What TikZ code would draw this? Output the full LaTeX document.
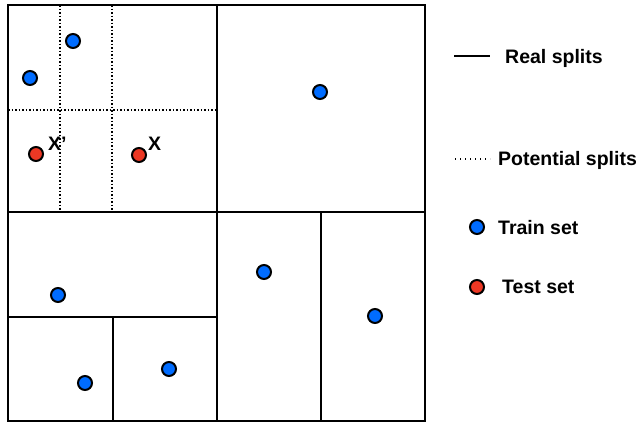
\documentclass[tikz,border=0pt]{standalone}
\usepackage{fontspec}
\setmainfont{Liberation Sans}
\definecolor{trainblue}{RGB}{0,108,255}
\definecolor{testred}{RGB}{236,56,36}
\begin{document}
\begin{tikzpicture}[x=1pt,y=-1pt,
  split/.style={line width=2.5pt, line join=miter},
  potential/.style={line width=1.9pt, dash pattern=on 1.9pt off 1.6pt},
  legdots/.style={line width=1.4pt, dash pattern=on 1.4pt off 3.6pt},
  sample/.style={circle, draw=black, line width=2pt, minimum size=14pt, inner sep=0pt},
  train/.style={sample, fill=trainblue},
  test/.style={sample, fill=testred},
  lbl/.style={font=\bfseries\fontsize{19.5}{22}\selectfont, inner sep=0pt, anchor=base west},
]
\useasboundingbox (0,0) rectangle (642,423);

% corners of the partitioned space
\coordinate (nw) at (8,5);
\coordinate (se) at (425,421);
% real splits
\coordinate (v1t) at (217,5);   \coordinate (v1b) at (217,421);
\coordinate (h1l) at (8,212);   \coordinate (h1r) at (425,212);
\coordinate (h2l) at (8,317);   \coordinate (h2r) at (217,317);
\coordinate (v2t) at (113,317); \coordinate (v2b) at (113,421);
\coordinate (v3t) at (321,212); \coordinate (v3b) at (321,421);
% potential splits
\coordinate (p1t) at (60,5);    \coordinate (p1b) at (60,212);
\coordinate (p2t) at (112,5);   \coordinate (p2b) at (112,212);
\coordinate (p3l) at (8,110);   \coordinate (p3r) at (217,110);

\draw[potential] (p1t) -- (p1b);
\draw[potential] (p2t) -- (p2b);
\draw[potential] (p3l) -- (p3r);

\draw[split] (nw) rectangle (se);
\draw[split] (v1t) -- (v1b);
\draw[split] (h1l) -- (h1r);
\draw[split] (h2l) -- (h2r);
\draw[split] (v2t) -- (v2b);
\draw[split] (v3t) -- (v3b);

% training samples
\node[train] (a1) at (73,41) {};
\node[train] (a2) at (30,78) {};
\node[train] (a3) at (320,92) {};
\node[train] (a4) at (58,295) {};
\node[train] (a5) at (85,383) {};
\node[train] (a6) at (169,369) {};
\node[train] (a7) at (264,272) {};
\node[train] (a8) at (375,316) {};

% test samples
\node[test] (t1) at (36,154) {};
\node[test] (t2) at (139,155) {};
\node[lbl] (t1lbl) at (48,150) {X’};
\node[lbl] (t2lbl) at (148,150) {X};

% legend
\coordinate (lr1) at (454,56);  \coordinate (lr2) at (490,56);
\draw[line width=2.3pt] (lr1) -- (lr2);
\node[lbl] (lrl) at (505,63) {Real splits};

\coordinate (lp1) at (455,159); \coordinate (lp2) at (490,159);
\draw[legdots] (lp1) -- (lp2);
\node[lbl] (lpl) at (498,165) {Potential splits};

\node[train] (ltr) at (477,227) {};
\node[lbl] (ltrl) at (498,234) {Train set};

\node[test] (lte) at (477,287) {};
\node[lbl] (ltel) at (502,293) {Test set};
\end{tikzpicture}
\end{document}
